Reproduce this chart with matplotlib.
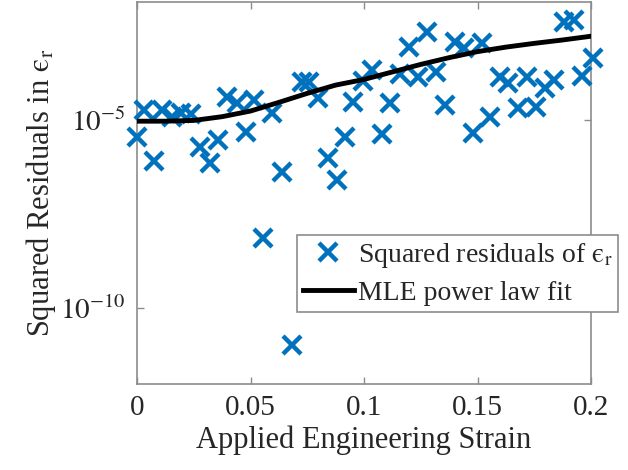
import matplotlib
matplotlib.use("Agg")
import matplotlib.pyplot as plt
import numpy as np

# strain values of the residual points
strain = [0.000, 0.0033, 0.0077, 0.0108, 0.0152, 0.0196, 0.0236, 0.0276, 0.0320, 0.0355,
          0.0395, 0.0439, 0.0479, 0.0514, 0.0554, 0.0594, 0.0638, 0.0682, 0.0726, 0.0757,
          0.0797, 0.0841, 0.0881, 0.0916, 0.0951, 0.0996, 0.1035, 0.1079, 0.1115, 0.1159,
          0.1199, 0.1238, 0.1278, 0.1318, 0.1358, 0.1402, 0.1442, 0.1481, 0.1521, 0.1556,
          0.1600, 0.1636, 0.1680, 0.1720, 0.1759, 0.1799, 0.1839, 0.1883, 0.1923, 0.1962,
          0.2007]
# log10 of squared residuals
log_resid = [-5.44, -4.73, -6.09, -4.73, -4.92, -4.81, -4.84, -5.72, -6.14, -5.53,
             -4.39, -4.55, -5.32, -4.47, -8.14, -4.81, -6.38, -10.98, -3.99, -3.99,
             -4.41, -6.01, -6.60, -5.45, -4.52, -3.96, -3.67, -5.37, -4.55, -3.78,
             -3.06, -3.86, -2.66, -3.72, -4.60, -2.93, -3.09, -5.35, -2.95, -4.92,
             -3.86, -4.02, -4.68, -3.86, -4.65, -4.15, -3.94, -2.39, -2.34, -3.83,
             -3.35]

# MLE power-law fit curve
fit_strain = [0.0, 0.0125, 0.025, 0.0375, 0.05, 0.0625, 0.075, 0.0875, 0.1, 0.1125,
              0.125, 0.1375, 0.15, 0.1625, 0.175, 0.1875, 0.2]
fit_log = [-5.03, -5.03, -5.01, -4.91, -4.76, -4.53, -4.29, -4.07, -3.92, -3.72,
           -3.52, -3.34, -3.18, -3.06, -2.96, -2.87, -2.77]

resid = [10 ** v for v in log_resid]
fit_vals = [10 ** v for v in fit_log]

plt.rcParams['font.family'] = ['Liberation Serif', 'DejaVu Serif']
plt.rcParams['mathtext.fontset'] = 'stix'

fig = plt.figure(figsize=(6.28, 4.70), dpi=100)
ax = fig.add_axes([137 / 628, 1 - 384 / 470, (591 - 137) / 628, (384 - 2) / 470])

eps = '$\\mathrm{\u03f5}_{\\mathrm{r}}$'

blue = '#0072BD'
ax.plot(strain, resid, linestyle='none', marker='x', color=blue,
        markersize=13, markeredgewidth=3.2, label='Squared residuals of ' + eps,
        clip_on=False, zorder=3)
ax.plot(fit_strain, fit_vals, color='black', linewidth=3.5, label='MLE power law fit',
        zorder=4)

ax.set_yscale('log')
ax.set_xlim(0, 0.2)
ax.set_ylim(10 ** -12.02, 10 ** -1.86)
ax.set_xticks([0, 0.05, 0.1, 0.15, 0.2])
ax.set_xticklabels(['0', '0.05', '0.1', '0.15', '0.2'])
ax.set_yticks([1e-10, 1e-5])
ax.set_yticklabels([r'$10^{-10}$', r'$10^{-5}$'])
ax.yaxis.set_minor_locator(matplotlib.ticker.NullLocator())

spine_c = '#8c8c8c'
for s in ax.spines.values():
    s.set_color(spine_c)
    s.set_linewidth(1.2)
ax.tick_params(axis='both', which='major', direction='in', length=5, width=1,
               color=spine_c, top=True, right=True, labelsize=21,
               labelcolor='#262626', pad=8)

ax.set_xlabel('Applied Engineering Strain', fontsize=22, color='#262626', labelpad=3)
ax.set_ylabel('Squared Residuals in ' + eps, fontsize=22, color='#262626',
              labelpad=2)

leg = ax.legend(loc='upper left', bbox_to_anchor=(297 / 628, 1 - 235 / 470),
                bbox_transform=fig.transFigure, fontsize=20, frameon=True,
                fancybox=False, edgecolor='#8c8c8c', framealpha=1,
                handlelength=1.85, handletextpad=0.15, borderpad=0.2,
                borderaxespad=0, labelspacing=0.4)
leg.get_frame().set_linewidth(1.2)
for t in leg.get_texts():
    t.set_color('#262626')

fig.savefig('out.png', dpi=100)
